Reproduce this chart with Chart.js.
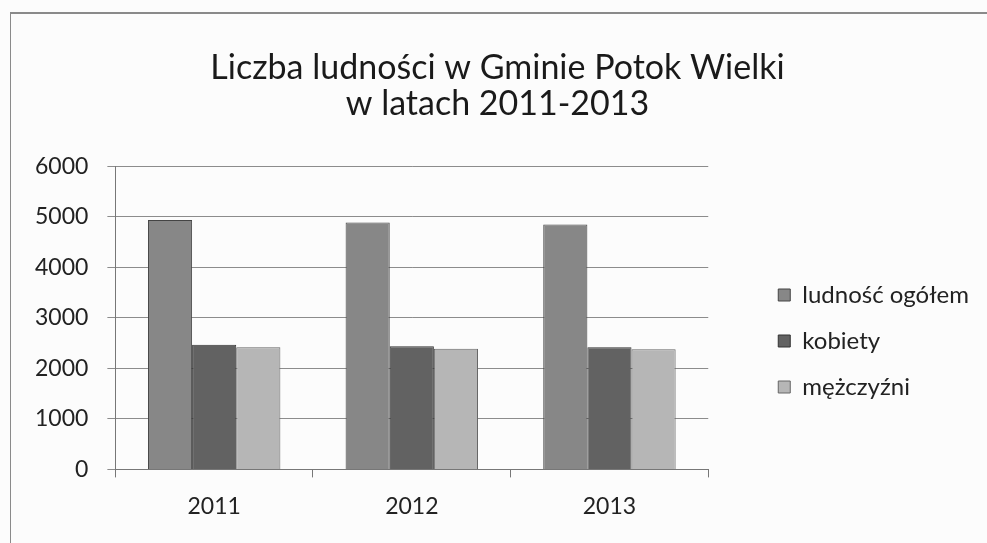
<!DOCTYPE html>
<html lang="pl">
<head>
<meta charset="utf-8">
<title>Liczba ludności w Gminie Potok Wielki</title>
<script src="https://cdn.jsdelivr.net/npm/chart.js@4/dist/chart.umd.min.js"></script>
<style>
  html, body { margin: 0; padding: 0; background: #fcfcfc; }
  body { width: 987px; height: 543px; position: relative; overflow: hidden; }
  #frame { position: absolute; left: 10px; top: 12px; width: 1000px; height: 560px; border-left: 1px solid #8a8a8a; border-top: 2px solid #8a8a8a; }
  #wrap { position: absolute; left: 0; top: 0; width: 987px; height: 543px; }
</style>
</head>
<body>
<div id="frame"></div>
<div id="wrap"><canvas id="chart"></canvas></div>
<script>
// Data
const years = ['2011', '2012', '2013'];
const ogolem = [4940, 4890, 4850];
const kobiety = [2470, 2440, 2420];
const mezczyzni = [2420, 2390, 2380];
const seriesNames = ['ludność ogółem', 'kobiety', 'mężczyźni'];
const yTicks = [0, 1000, 2000, 3000, 4000, 5000, 6000];

const font = 'Lato, "Open Sans", sans-serif';

new Chart(document.getElementById('chart'), {
  type: 'bar',
  data: {
    labels: years,
    datasets: [
      { label: seriesNames[0], data: ogolem, backgroundColor: '#878787', borderColor: '#444', borderWidth: 1 },
      { label: seriesNames[1], data: kobiety, backgroundColor: '#626262', borderColor: '#333', borderWidth: 1 },
      { label: seriesNames[2], data: mezczyzni, backgroundColor: '#b6b6b6', borderColor: '#666', borderWidth: 1 },
    ]
  },
  options: {
    responsive: true,
    maintainAspectRatio: false,
    animation: false,
    layout: { padding: { left: 16, right: 8, top: 0, bottom: 8 } },
    datasets: { bar: { categoryPercentage: 0.67, barPercentage: 1.0 } },
    plugins: {
      tooltip: { enabled: false },
      title: {
        display: true,
        text: ['Liczba ludności w Gminie Potok Wielki', 'w latach 2011-2013'],
        color: '#1a1a1a',
        font: { family: font, size: 34, weight: 'normal', lineHeight: 1.05 },
        padding: { top: 50, bottom: 45 }
      },
      legend: {
        position: 'right',
        align: 'start',
        maxWidth: 260,
        // empty legend title only used as a spacer to push the items down
        title: { display: true, text: ' ', font: { size: 10, lineHeight: 1.2 }, padding: { top: 249, bottom: 0 } },
        labels: {
          color: '#222',
          font: { family: font, size: 24, lineHeight: 1.2 },
          boxWidth: 12, boxHeight: 12,
          padding: 22
        }
      }
    },
    scales: {
      x: {
        offset: true,
        grid: { offset: true, drawOnChartArea: false, drawTicks: true, tickLength: 8, color: '#777' },
        border: { color: '#777' },
        ticks: { color: '#222', font: { family: font, size: 23 }, padding: 15 }
      },
      y: {
        min: 0, max: 6000,
        afterBuildTicks: function(s) { s.ticks = yTicks.map(v => ({ value: v })); },
        ticks: { color: '#222', font: { family: font, size: 23 }, padding: 19, callback: v => String(v) },
        grid: { color: '#8c8c8c', tickLength: 8 },
        border: { color: '#777' }
      },
      gap: {
        position: 'right',
        display: true,
        grid: { display: false },
        border: { display: false },
        ticks: { display: false },
        afterFit: function(s) { s.width = 48; }
      }
    }
  }
});
</script>
</body>
</html>
